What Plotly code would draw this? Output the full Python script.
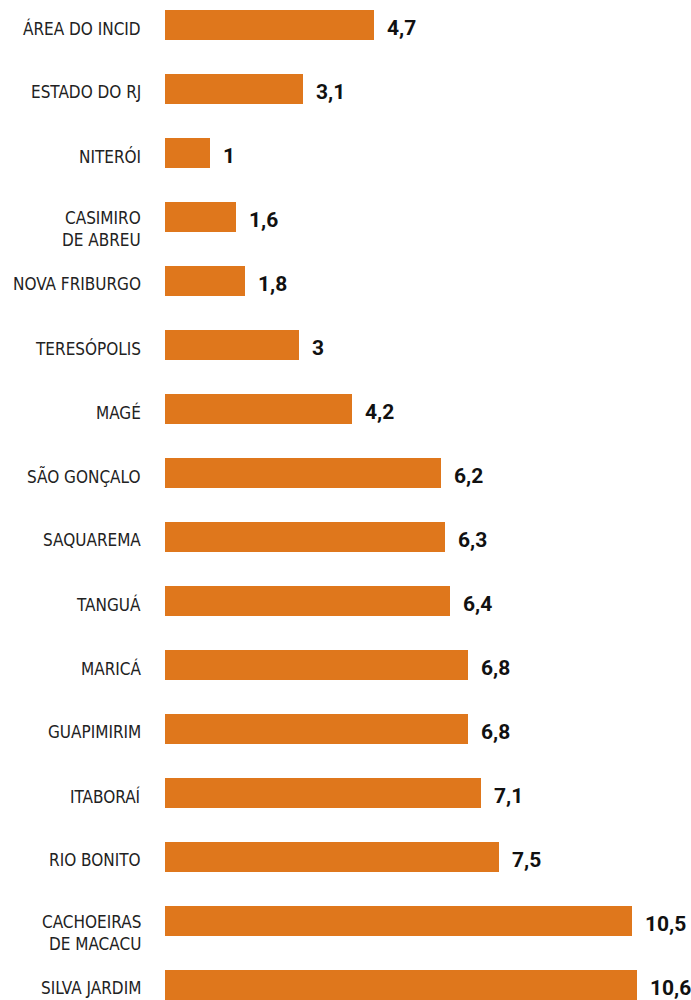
import plotly.graph_objects as go

# Index values by locality (top to bottom)
localidades = [
    "ÁREA DO INCID", "ESTADO DO RJ", "NITERÓI", "CASIMIRO<br>DE ABREU",
    "NOVA FRIBURGO", "TERESÓPOLIS", "MAGÉ", "SÃO GONÇALO", "SAQUAREMA",
    "TANGUÁ", "MARICÁ", "GUAPIMIRIM", "ITABORAÍ", "RIO BONITO",
    "CACHOEIRAS<br>DE MACACU", "SILVA JARDIM",
]
valores = [4.7, 3.1, 1.0, 1.6, 1.8, 3.0, 4.2, 6.2, 6.3, 6.4, 6.8, 6.8, 7.1, 7.5, 10.5, 10.6]

BAR_COLOR = "#DF771C"
LABEL_FONT = "DejaVu Sans Condensed, Liberation Sans Narrow, sans-serif"
VALUE_FONT = "Roboto, Liberation Sans, sans-serif"


def fmt(v):
    s = f"{v:g}"
    return s.replace(".", ",")


pos = list(range(len(valores)))

fig = go.Figure(
    go.Bar(
        x=valores,
        y=pos,
        orientation="h",
        marker=dict(color=BAR_COLOR, line=dict(width=0)),
        width=0.484,
        hoverinfo="skip",
    )
)

annotations = []
for i, (name, v) in enumerate(zip(localidades, valores)):
    two_lines = "<br>" in name
    annotations.append(dict(
        x=-0.042, xref="paper", y=i, yref="y",
        text=name, showarrow=False,
        xanchor="right", yanchor="middle",
        align="right",
        yshift=-12 if two_lines else -3,
        font=dict(family=LABEL_FONT, size=17, color="#222222"),
    ))
    annotations.append(dict(
        x=v, xref="x", y=i, yref="y",
        text=f"<b>{fmt(v)}</b>", showarrow=False,
        xanchor="left", yanchor="middle",
        xshift=11, yshift=-3,
        font=dict(family=VALUE_FONT, size=21, color="#111111"),
    ))

fig.update_layout(
    width=691, height=1000,
    margin=dict(l=165, r=0, t=0, b=0),
    paper_bgcolor="white", plot_bgcolor="white",
    showlegend=False,
    bargap=0,
    xaxis=dict(range=[0, 526 / 44.5], visible=False, fixedrange=True),
    yaxis=dict(range=[(1000 - 25) / 64, -25 / 64], visible=False, fixedrange=True),
    annotations=annotations,
)

fig.write_html("out.html", config={"displayModeBar": False})
